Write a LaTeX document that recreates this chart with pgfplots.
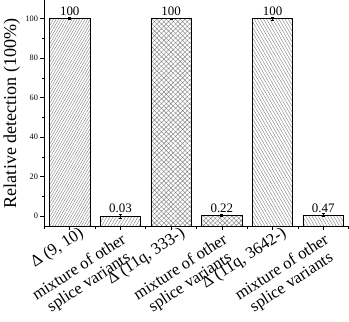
\documentclass[border=0pt]{standalone}
\usepackage{fontspec}
\setmainfont{Liberation Serif}
\usepackage{pgfplots}
\pgfplotsset{compat=1.18}
\usetikzlibrary{patterns.meta}
\newcommand{\two}[2]{\begin{tabular}{@{}c@{}}#1\\#2\end{tabular}}
\newcommand{\one}[1]{#1\hspace*{-10pt}}

\begin{document}
\begin{tikzpicture}
\begin{axis}[
  scale only axis, width=294pt, height=218pt,
  xmin=0.5, xmax=6.5, ymin=0, ymax=114.3,
  axis lines*=left,
  axis line style={line width=0.8pt},
  tick align=outside,
  major tick length=4pt, minor tick length=2.5pt,
  tick style={black, line width=0.6pt},
  xtick={1,...,6},
  xticklabels={{\one{Δ (9, 10)}},{\two{mixture of other}{splice variants}},{\one{Δ (11q, 333-)}},{\two{mixture of other}{splice variants}},{\one{Δ (11q, 3642-)}},{\two{mixture of other}{splice variants}}},
  minor xtick={0.5,1.5,...,6.5},
  ytick={5,25,45,65,85,105}, yticklabels={0,20,40,60,80,100},
  minor ytick={15,35,55,75,95},
  yticklabel style={font=\fontsize{8}{9}\selectfont, inner sep=2pt},
  xticklabel style={rotate=33, anchor=north east, inner sep=1pt, font=\fontsize{16}{17}\selectfont},
  ylabel={Relative detection (100\%)},
  ylabel style={font=\fontsize{17.5}{19}\selectfont},
  y filter/.expression={y+5},
  ybar, bar width=0.8, bar shift=0,
  error bars/y dir=both, error bars/y explicit,
  error bars/error mark options={rotate=90, mark size=1.5pt, line width=0.6pt, black},
  error bars/error bar style={line width=0.6pt, black},
  nodes near coords, point meta=explicit symbolic,
  nodes near coords style={font=\fontsize{12.5}{14}\selectfont, anchor=south, inner sep=2.5pt, black},
]
\addplot[draw=black, line width=0.7pt, pattern={Lines[angle=60,distance=2.2pt,line width=0.4pt]}, pattern color=gray]
  coordinates {(1,100) +- (0,0.5) [100]};
\addplot[draw=black, line width=0.7pt, pattern={Lines[angle=60,distance=2.6pt,line width=0.4pt]}, pattern color=gray]
  coordinates {(2,0.03) +- (0,1.0) [0.03]};
\addplot[draw=black, line width=0.7pt, pattern={Hatch[angle=45,distance=3.2pt,line width=0.4pt]}, pattern color=gray]
  coordinates {(3,100) +- (0,0.4) [100]};
\addplot[draw=black, line width=0.7pt, pattern={Hatch[angle=45,distance=3.2pt,line width=0.4pt]}, pattern color=gray]
  coordinates {(4,0.22) +- (0,0.5) [0.22]};
\addplot[draw=black, line width=0.7pt, pattern={Lines[angle=120,distance=2.6pt,line width=0.4pt]}, pattern color=gray]
  coordinates {(5,100) +- (0,0.8) [100]};
\addplot[draw=black, line width=0.7pt, pattern={Lines[angle=120,distance=2.6pt,line width=0.4pt]}, pattern color=gray]
  coordinates {(6,0.47) +- (0,0.8) [0.47]};
\end{axis}
\end{tikzpicture}
\end{document}
